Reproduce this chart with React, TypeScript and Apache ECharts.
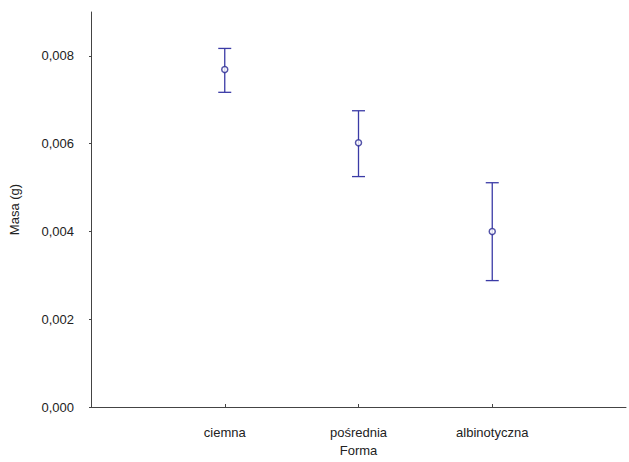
import React, { useEffect, useRef } from "react";
import * as echarts from "echarts";

const categories = ["ciemna", "pośrednia", "albinotyczna"];
const means = [0.00769, 0.00602, 0.004];
const lower = [0.00717, 0.00525, 0.00288];
const upper = [0.00817, 0.00675, 0.00511];
const yTicks = [0, 0.002, 0.004, 0.006, 0.008];

const FONT = "Liberation Sans";
const FS = 13;
const NAVY = "#2a2a94";

export default function App() {
  const ref = useRef<HTMLDivElement>(null);
  useEffect(() => {
    if (!ref.current) return;
    const chart = echarts.init(ref.current, undefined, { renderer: "svg" });
    const xCats = ["", ...categories, ""];
    chart.setOption({
      animation: false,
      grid: { left: 91, right: 1, top: 12, bottom: 55 },
      xAxis: {
        type: "category",
        data: xCats,
        boundaryGap: false,
        name: "Forma",
        nameLocation: "middle",
        nameGap: 37,
        nameTextStyle: { fontFamily: FONT, fontSize: FS, color: "#222" },
        axisLine: { lineStyle: { color: "#444", width: 1 } },
        axisTick: {
          inside: true,
          length: 3,
          interval: (i: number) => i >= 1 && i <= categories.length,
          lineStyle: { color: "#444" },
        },
        axisLabel: {
          interval: 0,
          margin: 19,
          fontFamily: FONT,
          fontSize: FS,
          color: "#222",
        },
        splitLine: { show: false },
      },
      yAxis: {
        type: "value",
        min: 0,
        max: 0.009,
        interval: 0.002,
        name: "Masa (g)",
        nameLocation: "middle",
        nameGap: 70,
        nameRotate: 90,
        nameTextStyle: { fontFamily: FONT, fontSize: FS, color: "#222" },
        axisLine: { show: true, lineStyle: { color: "#444", width: 1 } },
        axisTick: { show: true, length: 2, lineStyle: { color: "#444" } },
        axisLabel: {
          margin: 17,
          showMaxLabel: false,
          fontFamily: FONT,
          fontSize: FS,
          color: "#222",
          formatter: (v: number) =>
            yTicks.some((t) => Math.abs(t - v) < 1e-9) ? v.toFixed(3).replace(".", ",") : "",
        },
        splitLine: { show: false },
      },
      series: [
        {
          type: "custom",
          data: categories.map((_, i) => [i + 1, lower[i], upper[i]]),
          renderItem: (params: any, api: any) => {
            const x = api.value(0);
            const lo = api.coord([x, api.value(1)]);
            const hi = api.coord([x, api.value(2)]);
            const hw = 6.5;
            const style = { stroke: "#3b3ba6", lineWidth: 1.3, fill: "none" };
            return {
              type: "group",
              children: [
                { type: "line", shape: { x1: lo[0], y1: lo[1], x2: hi[0], y2: hi[1] }, style },
                { type: "line", shape: { x1: lo[0] - hw, y1: lo[1], x2: lo[0] + hw, y2: lo[1] }, style },
                { type: "line", shape: { x1: hi[0] - hw, y1: hi[1], x2: hi[0] + hw, y2: hi[1] }, style },
              ],
            };
          },
          z: 1,
        },
        {
          type: "scatter",
          data: categories.map((_, i) => [i + 1, means[i]]),
          symbol: "circle",
          symbolSize: 6,
          itemStyle: { color: "#ffffff", borderColor: NAVY, borderWidth: 1.5 },
          z: 2,
        },
      ],
    });
    return () => chart.dispose();
  }, []);
  return (
    <div
      ref={ref}
      style={{ position: "absolute", left: 0, top: 0, width: 629, height: 462 }}
    />
  );
}
